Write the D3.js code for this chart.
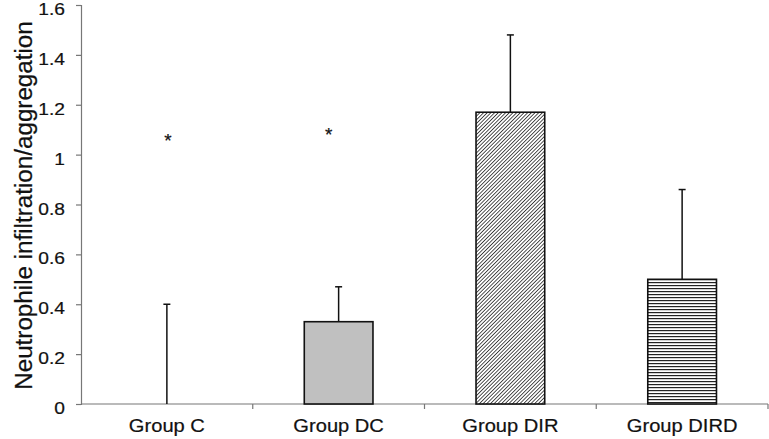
<!DOCTYPE html>
<html>
<head>
<meta charset="utf-8">
<script src="https://cdn.jsdelivr.net/npm/d3@7"></script>
<style>
  html, body { margin: 0; padding: 0; background: #fff; }
  svg { display: block; }
  text { font-family: "Liberation Sans", Arial, Helvetica, sans-serif; fill: #111; stroke: #111; stroke-width: 0.2px; }
</style>
</head>
<body>
<svg id="chart" width="769" height="439"></svg>
<script>
// ---- data ----
const categories = ["Group C", "Group DC", "Group DIR", "Group DIRD"];
const means      = [0, 0.33, 1.17, 0.50];
const errTops    = [0.40, 0.47, 1.48, 0.86];
const fills      = ["none", "gray", "diag", "horiz"];
const yTicks     = [0, 0.2, 0.4, 0.6, 0.8, 1, 1.2, 1.4, 1.6];
const starCats   = ["Group C", "Group DC"];
const starValues = [1.075, 1.097];
const yLabel     = "Neutrophile infiltration/aggregation";

const svg = d3.select("#chart");
const mLeft = 81, mRight = 768, mTop = 5, mBottom = 404;

const x = d3.scaleBand().domain(categories).range([mLeft, mRight]).paddingInner(0).paddingOuter(0);
const y = d3.scaleLinear().domain([0, 1.6]).range([mBottom, mTop]);

const defs = svg.append("defs");
const dStep = 2.6;
const diag = defs.append("pattern").attr("id", "diag").attr("patternUnits", "userSpaceOnUse")
  .attr("width", dStep).attr("height", dStep).attr("patternTransform", "rotate(45)");
diag.append("rect").attr("width", dStep).attr("height", dStep).attr("fill", "#fff");
diag.append("line").attr("x1", 0).attr("y1", 0).attr("x2", 0).attr("y2", dStep)
  .attr("stroke", "#000").attr("stroke-width", 1.35);
const horiz = defs.append("pattern").attr("id", "horiz").attr("patternUnits", "userSpaceOnUse")
  .attr("width", 6).attr("height", 3);
horiz.append("rect").attr("width", 6).attr("height", 3).attr("fill", "#fff");
horiz.append("line").attr("x1", 0).attr("y1", 0.6).attr("x2", 6).attr("y2", 0.6)
  .attr("stroke", "#222").attr("stroke-width", 1.2);

const fillOf = f => f === "gray" ? "#c0c0c0" : f === "diag" ? "url(#diag)" : f === "horiz" ? "url(#horiz)" : "none";

const bw = x.bandwidth() * 0.4;
const cx = c => x(c) + x.bandwidth() / 2;

// axes
const yAxis = d3.axisLeft(y).tickValues(yTicks).tickSize(5).tickFormat(d3.format("~g"));
const gy = svg.append("g").attr("transform", `translate(${mLeft},0)`).call(yAxis);
gy.select(".domain").attr("stroke", "#777").attr("stroke-width", 1.2);
gy.selectAll(".tick line").attr("stroke", "#777").attr("stroke-width", 1.2);
gy.selectAll(".tick text").remove();
gy.selectAll(".tick").append("text")
  .attr("text-anchor", "end")
  .attr("transform", "translate(-16,9.5) scale(1.2,1)")
  .attr("font-size", 16)
  .text(d => d3.format("~g")(d));

const xAxis = d3.axisBottom(x).tickSize(0).tickFormat("");
const gx = svg.append("g").attr("transform", `translate(0,${mBottom})`).call(xAxis);
gx.select(".domain").attr("stroke", "#777").attr("stroke-width", 1.2).attr("d", `M${mLeft},0H${mRight}`);
gx.selectAll(".tick").remove();
gx.selectAll(".bt").data(categories.slice(1).concat(["end"])).join("line")
  .attr("x1", (d, i) => i < 3 ? x(d) : mRight).attr("x2", (d, i) => i < 3 ? x(d) : mRight)
  .attr("y1", 0).attr("y2", 5).attr("stroke", "#777").attr("stroke-width", 1.2);

// x labels
svg.selectAll(".xl").data(categories).join("text")
  .attr("class", "xl")
  .attr("text-anchor", "middle")
  .attr("font-size", 17.5)
  .attr("transform", d => `translate(${cx(d)},432) scale(1.15,1)`)
  .text(d => d);

// y label
svg.append("text")
  .attr("text-anchor", "middle")
  .attr("font-size", 20)
  .attr("transform", `translate(32,${(mTop + mBottom) / 2 + 1}) rotate(-90) scale(1.21,1.22)`)
  .text(yLabel);

// error bars (upper only)
const eb = svg.append("g");
categories.forEach((c, i) => {
  eb.append("line").attr("x1", cx(c)).attr("x2", cx(c)).attr("y1", y(means[i])).attr("y2", y(errTops[i]))
    .attr("stroke", "#111").attr("stroke-width", 1.5);
  eb.append("line").attr("x1", cx(c) - 3.5).attr("x2", cx(c) + 3.5).attr("y1", y(errTops[i])).attr("y2", y(errTops[i]))
    .attr("stroke", "#111").attr("stroke-width", 1.5);
});

// bars
svg.selectAll(".bar").data(categories.filter((c, i) => means[i] > 0)).join("rect")
  .attr("class", "bar")
  .attr("x", c => cx(c) - bw / 2)
  .attr("width", bw)
  .attr("y", c => y(means[categories.indexOf(c)]))
  .attr("height", c => y(0) - y(means[categories.indexOf(c)]))
  .attr("fill", c => fillOf(fills[categories.indexOf(c)]))
  .attr("stroke", "#111").attr("stroke-width", 1.6);

// asterisks
const starDx = [1, -10];
svg.selectAll(".star").data(starCats).join("text")
  .attr("class", "star")
  .attr("text-anchor", "middle")
  .attr("font-size", 19)
  .attr("x", (c, i) => cx(c) + starDx[i])
  .attr("y", (c, i) => y(starValues[i]) + 11)
  .text("*");
</script>
</body>
</html>
